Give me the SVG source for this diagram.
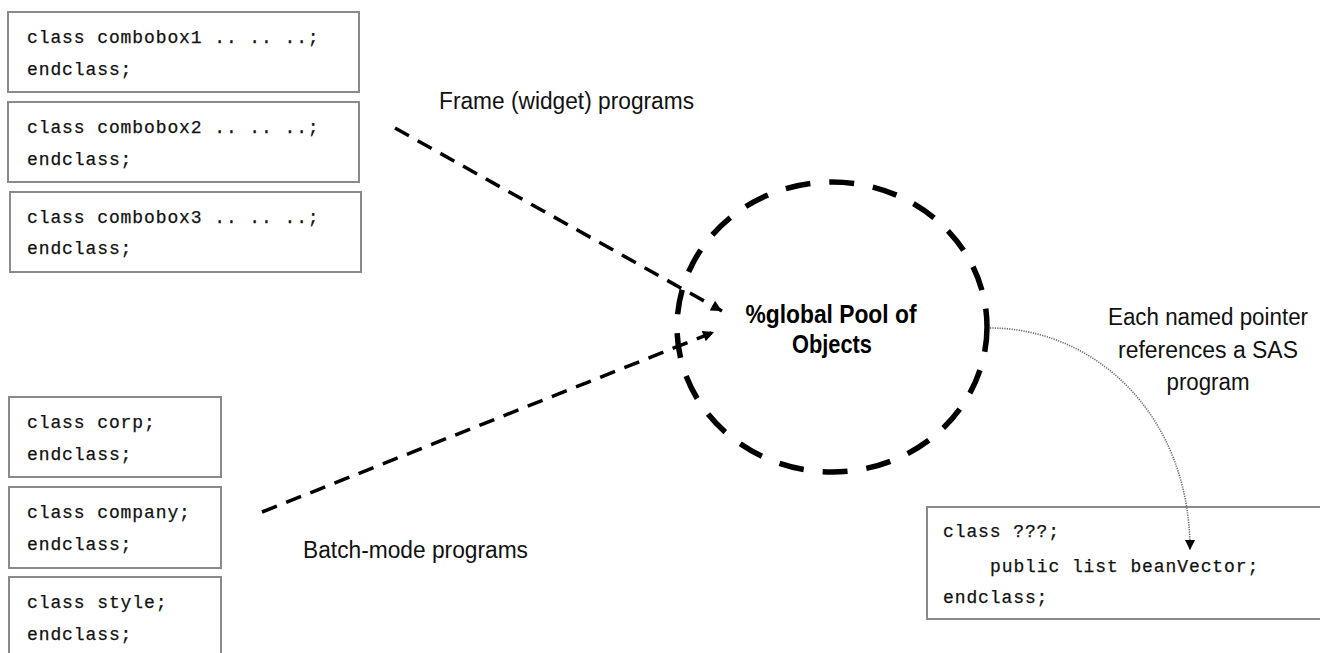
<svg xmlns="http://www.w3.org/2000/svg" width="1320" height="653" viewBox="0 0 1320 653">
  <style>
    .box { fill: #ffffff; stroke: #8a8a8a; stroke-width: 2; }
    .code { font-family: "Liberation Mono", "DejaVu Sans Mono", monospace; font-size: 18px; letter-spacing: 0.9px; fill: #111; stroke: #111; stroke-width: 0.25; }
    .label { font-family: "Liberation Sans", Arial, sans-serif; font-size: 23px; fill: #111; }
    .title { font-family: "Liberation Sans", Arial, sans-serif; font-size: 25px; font-weight: bold; fill: #000; }
    .feed { fill: none; stroke: #000; stroke-width: 3.5; stroke-dasharray: 16 10; }
    .pointer { fill: none; stroke: #666; stroke-width: 1.6; stroke-dasharray: 1.2 1.2; }
  </style>
  <defs>
    <marker id="tri" viewBox="0 0 10 10" refX="10" refY="5" markerWidth="12" markerHeight="11" markerUnits="userSpaceOnUse" orient="auto">
      <path d="M0,0 L10,5 L0,10 Z" fill="#000"/>
    </marker>
    <marker id="tri-small" viewBox="0 0 10 10" refX="10" refY="5" markerWidth="11" markerHeight="10" markerUnits="userSpaceOnUse" orient="auto">
      <path d="M0,0 L10,5 L0,10 Z" fill="#000"/>
    </marker>
  </defs>

  <rect width="1320" height="653" fill="#ffffff"/>

  <!-- frame (widget) classes -->
  <g id="combobox1">
    <rect class="box" x="8" y="12" width="351" height="80"/>
    <text class="code" x="27" y="43">class combobox1 .. .. ..;</text>
    <text class="code" x="27" y="75">endclass;</text>
  </g>
  <g id="combobox2">
    <rect class="box" x="8" y="102" width="351" height="80"/>
    <text class="code" x="27" y="133">class combobox2 .. .. ..;</text>
    <text class="code" x="27" y="165">endclass;</text>
  </g>
  <g id="combobox3">
    <rect class="box" x="10" y="192" width="351" height="80"/>
    <text class="code" x="27" y="223">class combobox3 .. .. ..;</text>
    <text class="code" x="27" y="254">endclass;</text>
  </g>

  <!-- batch-mode classes -->
  <g id="corp">
    <rect class="box" x="9" y="397" width="212" height="80"/>
    <text class="code" x="27" y="428">class corp;</text>
    <text class="code" x="27" y="460">endclass;</text>
  </g>
  <g id="company">
    <rect class="box" x="9" y="487" width="212" height="81"/>
    <text class="code" x="27" y="518">class company;</text>
    <text class="code" x="27" y="550">endclass;</text>
  </g>
  <g id="style">
    <rect class="box" x="9" y="577" width="212" height="90"/>
    <text class="code" x="27" y="608">class style;</text>
    <text class="code" x="27" y="640">endclass;</text>
  </g>

  <!-- global pool -->
  <g id="global-pool">
    <ellipse cx="832" cy="327" rx="155" ry="145" fill="none" stroke="#000" stroke-width="5.5" stroke-dasharray="25 19"/>
    <text class="title" x="831" y="323" text-anchor="middle" textLength="171" lengthAdjust="spacingAndGlyphs">%global Pool of</text>
    <text class="title" x="832" y="353" text-anchor="middle" textLength="80" lengthAdjust="spacingAndGlyphs">Objects</text>
  </g>

  <!-- target class -->
  <g id="bean-class">
    <rect class="box" x="927" y="507" width="420" height="112"/>
    <text class="code" x="943" y="537">class ???;</text>
    <text class="code" x="990" y="572">public list beanVector;</text>
    <text class="code" x="943" y="603">endclass;</text>
  </g>

  <!-- labels -->
  <g id="labels">
    <text class="label" x="439" y="109" textLength="255" lengthAdjust="spacingAndGlyphs">Frame (widget) programs</text>
    <text class="label" x="303" y="558" textLength="225" lengthAdjust="spacingAndGlyphs">Batch-mode programs</text>
    <text class="label" x="1208" y="325" text-anchor="middle" textLength="200" lengthAdjust="spacingAndGlyphs">Each named pointer</text>
    <text class="label" x="1208" y="358" text-anchor="middle" textLength="180" lengthAdjust="spacingAndGlyphs">references a SAS</text>
    <text class="label" x="1208" y="390" text-anchor="middle" textLength="83" lengthAdjust="spacingAndGlyphs">program</text>
  </g>

  <!-- connectors -->
  <g id="connectors">
    <line class="feed" x1="395" y1="128" x2="722" y2="311" marker-end="url(#tri)"/>
    <line class="feed" x1="262" y1="512" x2="714" y2="332" marker-end="url(#tri)"/>
    <path class="pointer" d="M990,328 C1095,328 1190,415 1190,550" marker-end="url(#tri-small)"/>
  </g>
</svg>
